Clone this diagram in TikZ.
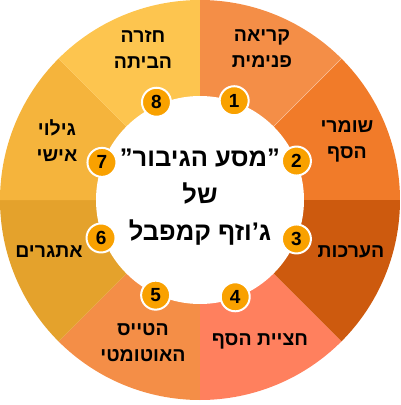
\documentclass[tikz,border=0pt]{standalone}
\usepackage{fontspec}
\setmainfont{Liberation Sans}
\newfontfamily\hebfont[Script=Hebrew]{Liberation Sans}
\TeXXeTstate=1
\definecolor{sectone}{HTML}{F48E47}
\definecolor{secttwo}{HTML}{F17B29}
\definecolor{sectthree}{HTML}{CD5A0E}
\definecolor{sectfour}{HTML}{FF805E}
\definecolor{sectfive}{HTML}{F48E47}
\definecolor{sectsix}{HTML}{E4A22C}
\definecolor{sectseven}{HTML}{F5B43C}
\definecolor{secteight}{HTML}{FDC54F}
\definecolor{badgeorange}{HTML}{F9A100}
\begin{document}
\begin{tikzpicture}[
    x=1pt, y=1pt,
    font=\hebfont\bfseries,
    sector_label/.style={align=center, font=\hebfont\bfseries\fontsize{19.5}{26}\selectfont, text=black},
    badge/.style={circle, draw=white, line width=2pt, fill=badgeorange, minimum size=29pt, inner sep=0pt, font=\bfseries\fontsize{19}{19}\selectfont},
    hub/.style={circle, fill=white, minimum size=208pt, inner sep=0pt}
]
\useasboundingbox (-200,-205) rectangle (201,200);

% Sectors
\foreach \col [count=\i] in {sectone,secttwo,sectthree,sectfour,sectfive,sectsix,sectseven,secteight} {
  \fill[\col] (0,0) -- ({135-45*\i}:200) arc[start angle={135-45*\i}, end angle={90-45*\i}, radius=200] -- cycle;
}
\draw[white, opacity=0.45, line width=0.6pt] (0,0) -- (45:200);

% Hub
\node[hub] (hub) at (0,0) {};
\node[align=center, font=\hebfont\bfseries\fontsize{25.5}{37}\selectfont] (title) at (0,3)
  {\beginR ”מסע הגיבור”\endR\\\beginR של\endR\\\beginR ג’וזף קמפבל\endR};

% Badges
\node[badge] (b1) at (71:105) {1};
\node[badge] (b2) at (22:104) {2};
\node[badge] (b3) at (-22:104) {3};
\node[badge] (b4) at (-70:103) {4};
\node[badge] (b5) at (-115:105) {5};
\node[badge] (b6) at (-159:106) {6};
\node[badge] (b7) at (159:105) {7};
\node[badge] (b8) at (114:107) {8};

% Labels
\node[sector_label] (l1) at (62,151) {\beginR קריאה\endR\\\beginR פנימית\endR};
\node[sector_label] (l2) at (147,59) {\beginR שומרי\endR\\\beginR הסף\endR};
\node[sector_label] (l3) at (151,-52) {\beginR הערכות\endR};
\node[sector_label] (l4) at (60,-141) {\beginR חציית הסף\endR};
\node[sector_label] (l5) at (-57,-143) {\beginR הטייס\endR\\\beginR האוטומטי\endR};
\node[sector_label] (l6) at (-151,-52) {\beginR אתגרים\endR};
\node[sector_label] (l7) at (-143,59) {\beginR גילוי\endR\\\beginR אישי\endR};
\node[sector_label] (l8) at (-57,151) {\beginR חזרה\endR\\\beginR הביתה\endR};

\end{tikzpicture}
\end{document}
